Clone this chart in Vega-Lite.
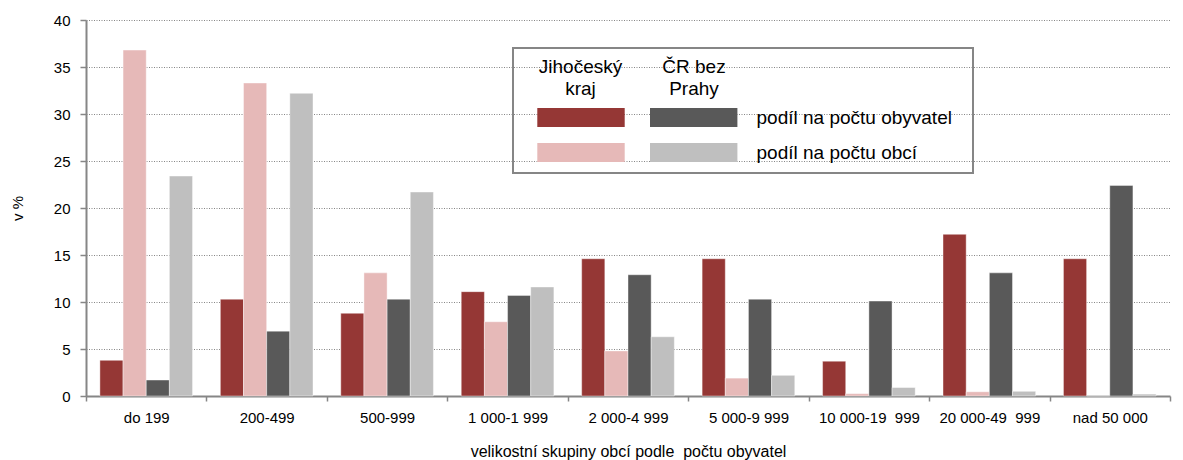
{
  "$schema": "https://vega.github.io/schema/vega-lite/v6.json",
  "width": 1084,
  "height": 376,
  "autosize": "none",
  "padding": {"left": 86, "top": 20, "right": 13, "bottom": 64},
  "config": {"font": "Liberation Sans", "view": {"stroke": null}, "legend": {"strokeWidth": 2}, "style": {"guide-title": {"lineBreak": "\n"}}},
  "data": {"values": [
    {"skupina": "do 199", "kraj": "Jihočeský kraj", "serie": "J-obyv", "v": 3.8},
    {"skupina": "do 199", "kraj": "Jihočeský kraj", "serie": "J-obci", "v": 36.8},
    {"skupina": "do 199", "kraj": "ČR bez Prahy", "serie": "C-obyv", "v": 1.7},
    {"skupina": "do 199", "kraj": "ČR bez Prahy", "serie": "C-obci", "v": 23.4},
    {"skupina": "200-499", "kraj": "Jihočeský kraj", "serie": "J-obyv", "v": 10.3},
    {"skupina": "200-499", "kraj": "Jihočeský kraj", "serie": "J-obci", "v": 33.3},
    {"skupina": "200-499", "kraj": "ČR bez Prahy", "serie": "C-obyv", "v": 6.9},
    {"skupina": "200-499", "kraj": "ČR bez Prahy", "serie": "C-obci", "v": 32.2},
    {"skupina": "500-999", "kraj": "Jihočeský kraj", "serie": "J-obyv", "v": 8.8},
    {"skupina": "500-999", "kraj": "Jihočeský kraj", "serie": "J-obci", "v": 13.1},
    {"skupina": "500-999", "kraj": "ČR bez Prahy", "serie": "C-obyv", "v": 10.3},
    {"skupina": "500-999", "kraj": "ČR bez Prahy", "serie": "C-obci", "v": 21.7},
    {"skupina": "1 000-1 999", "kraj": "Jihočeský kraj", "serie": "J-obyv", "v": 11.1},
    {"skupina": "1 000-1 999", "kraj": "Jihočeský kraj", "serie": "J-obci", "v": 7.9},
    {"skupina": "1 000-1 999", "kraj": "ČR bez Prahy", "serie": "C-obyv", "v": 10.7},
    {"skupina": "1 000-1 999", "kraj": "ČR bez Prahy", "serie": "C-obci", "v": 11.6},
    {"skupina": "2 000-4 999", "kraj": "Jihočeský kraj", "serie": "J-obyv", "v": 14.6},
    {"skupina": "2 000-4 999", "kraj": "Jihočeský kraj", "serie": "J-obci", "v": 4.8},
    {"skupina": "2 000-4 999", "kraj": "ČR bez Prahy", "serie": "C-obyv", "v": 12.9},
    {"skupina": "2 000-4 999", "kraj": "ČR bez Prahy", "serie": "C-obci", "v": 6.3},
    {"skupina": "5 000-9 999", "kraj": "Jihočeský kraj", "serie": "J-obyv", "v": 14.6},
    {"skupina": "5 000-9 999", "kraj": "Jihočeský kraj", "serie": "J-obci", "v": 1.9},
    {"skupina": "5 000-9 999", "kraj": "ČR bez Prahy", "serie": "C-obyv", "v": 10.3},
    {"skupina": "5 000-9 999", "kraj": "ČR bez Prahy", "serie": "C-obci", "v": 2.2},
    {"skupina": "10 000-19  999", "kraj": "Jihočeský kraj", "serie": "J-obyv", "v": 3.7},
    {"skupina": "10 000-19  999", "kraj": "Jihočeský kraj", "serie": "J-obci", "v": 0.25},
    {"skupina": "10 000-19  999", "kraj": "ČR bez Prahy", "serie": "C-obyv", "v": 10.1},
    {"skupina": "10 000-19  999", "kraj": "ČR bez Prahy", "serie": "C-obci", "v": 0.9},
    {"skupina": "20 000-49  999", "kraj": "Jihočeský kraj", "serie": "J-obyv", "v": 17.2},
    {"skupina": "20 000-49  999", "kraj": "Jihočeský kraj", "serie": "J-obci", "v": 0.45},
    {"skupina": "20 000-49  999", "kraj": "ČR bez Prahy", "serie": "C-obyv", "v": 13.1},
    {"skupina": "20 000-49  999", "kraj": "ČR bez Prahy", "serie": "C-obci", "v": 0.5},
    {"skupina": "nad 50 000", "kraj": "Jihočeský kraj", "serie": "J-obyv", "v": 14.6},
    {"skupina": "nad 50 000", "kraj": "Jihočeský kraj", "serie": "J-obci", "v": 0},
    {"skupina": "nad 50 000", "kraj": "ČR bez Prahy", "serie": "C-obyv", "v": 22.4},
    {"skupina": "nad 50 000", "kraj": "ČR bez Prahy", "serie": "C-obci", "v": 0.2}
  ]},
  "encoding": {
    "x": {
      "field": "skupina", "type": "nominal",
      "scale": {"domain": ["do 199", "200-499", "500-999", "1 000-1 999", "2 000-4 999", "5 000-9 999", "10 000-19  999", "20 000-49  999", "nad 50 000"], "paddingInner": 0, "paddingOuter": 0},
      "axis": {
        "title": "velikostní skupiny obcí podle\u00a0 počtu obyvatel",
        "titleFontSize": 16, "titleFontWeight": "normal", "titleColor": "#000000", "titlePadding": 18,
        "labelAngle": 0, "labelFontSize": 15, "labelColor": "#000000", "labelPadding": 9,
        "labelExpr": "replace(datum.label, '  ', '\u00a0 ')",
        "tickBand": "extent", "tickSize": 5, "tickColor": "#868686", "tickWidth": 1.5,
        "domainColor": "#868686", "domainWidth": 2, "grid": false
      }
    },
    "xOffset": {
      "field": "serie", "type": "nominal",
      "scale": {"domain": ["J-obyv", "J-obci", "C-obyv", "C-obci"], "paddingInner": 0, "paddingOuter": 0.6}
    },
    "y": {
      "field": "v", "type": "quantitative",
      "scale": {"domain": [0, 40], "nice": false},
      "axis": {
        "title": "v %", "titleFontSize": 15, "titleFontWeight": "normal", "titleColor": "#000000", "titlePadding": 28,
        "values": [0, 5, 10, 15, 20, 25, 30, 35, 40],
        "labelFontSize": 15, "labelColor": "#000000", "labelPadding": 10,
        "tickSize": 6, "tickColor": "#868686", "tickWidth": 1.5,
        "domainColor": "#868686", "domainWidth": 2,
        "grid": true, "gridColor": "#868686", "gridDash": [1, 1.5], "gridWidth": 1.2
      }
    }
  },
  "layer": [
    {
      "transform": [{"filter": "datum.kraj === 'Jihočeský kraj'"}],
      "mark": {"type": "bar", "stroke": "#ffffff", "strokeWidth": 0.7, "strokeOpacity": 0.6},
      "encoding": {
        "fill": {
          "field": "serie", "type": "nominal",
          "scale": {"domain": ["J-obyv", "J-obci"], "range": ["#953735", "#E6B9B8"]},
          "legend": {
            "orient": "none", "legendX": 427, "legendY": 28, "direction": "vertical",
            "title": "\u200b\u00a0\u00a0\u00a0Jihočeský\n\u200b\u00a0\u00a0\u00a0\u00a0\u00a0\u00a0\u00a0\u00a0kraj",
            "titleFontSize": 19, "titleFontWeight": "normal", "titleColor": "#000000", "titleLineHeight": 22, "titlePadding": 9, "titleAnchor": "start", "titleLimit": 500,
            "padding": 10, "strokeColor": "#868686",
            "symbolType": "M-4.6,-1H4.6V1H-4.6Z", "symbolSize": 361, "symbolOffset": 48.5, "symbolStrokeWidth": 0, "symbolOpacity": 1,
            "labelFontSize": 19, "labelColor": "#000000", "labelOffset": 166,
            "labelExpr": "(datum.label === 'J-obyv' ? 'podíl na počtu obyvatel' : 'podíl na počtu obcí') + '\u00a0\u00a0\u200b'",
            "rowPadding": 15, "labelLimit": 400
          }
        }
      }
    },
    {
      "transform": [{"filter": "datum.kraj === 'ČR bez Prahy'"}],
      "mark": {"type": "bar", "stroke": "#ffffff", "strokeWidth": 0.7, "strokeOpacity": 0.6},
      "encoding": {
        "color": {
          "field": "serie", "type": "nominal",
          "scale": {"domain": ["C-obyv", "C-obci"], "range": ["#595959", "#BFBFBF"]},
          "legend": {
            "orient": "none", "legendX": 564, "legendY": 38, "direction": "vertical",
            "title": "ČR bez\nPrahy",
            "titleFontSize": 19, "titleFontWeight": "normal", "titleColor": "#000000", "titleLineHeight": 22, "titlePadding": 9, "titleAnchor": "middle", "titleAlign": "center", "titleLimit": 500,
            "padding": 0,
            "symbolType": "M-4.6,-1H4.6V1H-4.6Z", "symbolSize": 361, "symbolOffset": 34.2, "symbolStrokeWidth": 0, "symbolOpacity": 1,
            "labelFontSize": 19, "labelOffset": 0, "labelExpr": "''",
            "rowPadding": 15
          }
        }
      }
    }
  ]
}
